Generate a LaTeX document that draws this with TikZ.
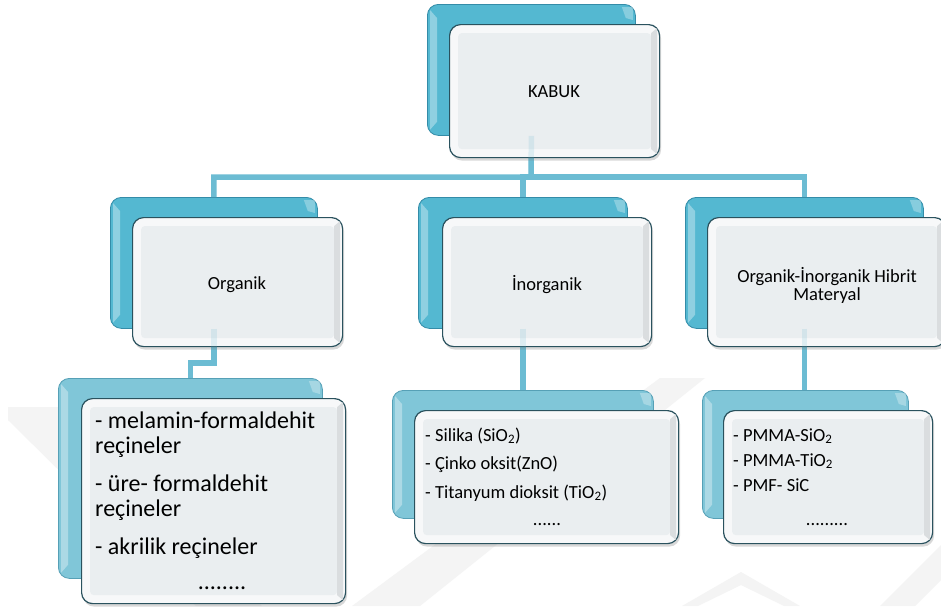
\documentclass[tikz,border=0pt]{standalone}
\usepackage{fontspec}
\setmainfont{Carlito}
\usetikzlibrary{shadows}

\definecolor{topblue}{RGB}{84,184,209}
\definecolor{topblueDark}{RGB}{52,140,168}
\definecolor{lowblue}{RGB}{128,198,216}
\definecolor{lowblueDark}{RGB}{86,160,182}
\definecolor{linkblue}{RGB}{108,188,211}
\definecolor{faceout}{RGB}{247,248,249}
\definecolor{facein}{RGB}{234,238,240}
\definecolor{facebevel}{RGB}{218,221,223}
\definecolor{rim}{RGB}{42,82,94}
\definecolor{markgrey}{RGB}{244,244,244}

\tikzset{
  box/.style={anchor=north west, inner sep=0pt, rounded corners=11pt},
  backtop/.style={box, fill=topblue, draw=topblueDark, line width=0.8pt},
  backlow/.style={box, fill=lowblue, draw=lowblueDark, line width=0.8pt},
  front/.style={box, fill=faceout, draw=rim, line width=1.2pt,
    drop shadow={shadow xshift=1.5pt, shadow yshift=-3pt, opacity=0.3}},
  link/.style={draw=linkblue, line width=5.5pt},
  ghostlink/.style={draw=linkblue, line width=5.5pt, opacity=0.18},
  lbl/.style={inner sep=0pt, anchor=base, font=\fontsize{18.5}{20}\selectfont},
  item/.style={inner sep=0pt, anchor=base west, font=\fontsize{18.5}{20}\selectfont},
  bigitem/.style={inner sep=0pt, anchor=base west, font=\fontsize{24}{25}\selectfont},
}

% inner panel and right-hand bevel of a front card
\newcommand\cardface[1]{%
  \fill[facein, rounded corners=4pt]
    ([shift={(9pt,-9pt)}]#1.north west) rectangle ([shift={(-9pt,9pt)}]#1.south east);
  \fill[facebevel]
    ([shift={(-9pt,-9pt)}]#1.north east) -- ([shift={(-3pt,-4pt)}]#1.north east)
    -- ([shift={(-3pt,4pt)}]#1.south east) -- ([shift={(-9pt,9pt)}]#1.south east) -- cycle;
}
% light edge on the left of a back card
\newcommand\cardgloss[1]{%
  \fill[white, opacity=0.35]
    ([shift={(3pt,-6pt)}]#1.north west) -- ([shift={(10pt,-14pt)}]#1.north west)
    -- ([shift={(10pt,14pt)}]#1.south west) -- ([shift={(3pt,6pt)}]#1.south west) -- cycle;
  \fill[white, opacity=0.3]
    ([shift={(-14pt,-3pt)}]#1.north east) -- ([shift={(-3pt,-3pt)}]#1.north east)
    -- ([shift={(-3pt,-16pt)}]#1.north east) -- ([shift={(-10pt,-14pt)}]#1.north east) -- cycle;
}

\begin{document}
\begin{tikzpicture}[x=1pt, y=-1pt]
\useasboundingbox (0,0) rectangle (941,606);
\fill[white] (0,0) rectangle (941,606);

% faint background mark
\fill[markgrey] (8,407) -- (62,407) -- (262,606) -- (196,606) -- (8,420) -- cycle;
\fill[markgrey] (352,606) -- (420,606) -- (705,378) -- (660,378) -- cycle;
\fill[markgrey] (741,572) -- (800,606) -- (784,606) -- (741,585) -- (698,606) -- (682,606) -- cycle;
\fill[markgrey] (880,606) -- (941,545) -- (941,580) -- (915,606) -- cycle;

% back cards
\node[backtop, minimum width=208pt, minimum height=131pt] (kb) at (427,4) {};
\node[backtop, minimum width=207pt, minimum height=131pt] (ob) at (110,197) {};
\node[backtop, minimum width=209pt, minimum height=131pt] (ib) at (418,197) {};
\node[backtop, minimum width=238pt, minimum height=131pt] (hb) at (685,197) {};
\node[backlow, minimum width=264pt, minimum height=200pt] (olb) at (58,378) {};
\node[backlow, minimum width=261pt, minimum height=128pt] (ilb) at (392,390) {};
\node[backlow, minimum width=206pt, minimum height=128pt] (hlb) at (702,390) {};

% connectors
\coordinate (hub) at (531,177);
\draw[link] (kb.south) -- (hub) -| (ob.north);
\draw[link] (hub) -| (ib.north);
\draw[link] (hub) -| (hb.north);
\draw[link] (ob.south) -- ++(0,34) -| (olb.north);
\draw[link] (ib.south) -- (ib.south |- ilb.north);
\draw[link] (hb.south) -- (hb.south |- hlb.north);

\foreach \c in {kb,ob,ib,hb,olb,ilb,hlb} {\cardgloss{\c}}

% front cards
\node[front, minimum width=210pt, minimum height=133pt] (kf) at (449,24) {};
\node[front, minimum width=210pt, minimum height=129pt] (of) at (132,217) {};
\node[front, minimum width=209pt, minimum height=129pt] (if) at (442,217) {};
\node[front, minimum width=238pt, minimum height=129pt] (hf) at (707,217) {};
\node[front, minimum width=264pt, minimum height=205pt] (olf) at (81,398) {};
\node[front, minimum width=264pt, minimum height=133pt] (ilf) at (414,410) {};
\node[front, minimum width=209pt, minimum height=133pt] (hlf) at (723,410) {};
\foreach \c in {kf,of,if,hf,olf,ilf,hlf} {\cardface{\c}}

% connectors seen faintly through the front cards
\draw[ghostlink] (kb.south) -- (hub);
\draw[ghostlink] (ob.south) -- ++(0,34);
\draw[ghostlink] (ib.south) -- ++(0,34);
\draw[ghostlink] (hb.south) -- ++(0,34);

% labels
\node[lbl] (kt) at (554,97) {KABUK};
\node[lbl] (ot) at (237,289) {Organik};
\node[lbl] (it) at (547,290) {İnorganik};
\node[lbl] (ht1) at (827,282) {Organik-İnorganik Hibrit};
\node[lbl] (ht2) at (827,300) {Materyal};

\node[bigitem] (o1) at (95,428) {- melamin-formaldehit};
\node[bigitem] (o2) at (95,453) {reçineler};
\node[bigitem] (o3) at (95,491) {- üre- formaldehit};
\node[bigitem] (o4) at (95,516) {reçineler};
\node[bigitem] (o5) at (95,554) {- akrilik reçineler};
\node[bigitem, anchor=base] (o6) at (222,589) {........};

\node[item] (i1) at (425,441) {- Silika (SiO\textsubscript{2})};
\node[item] (i2) at (425,469) {- Çinko oksit(ZnO)};
\node[item] (i3) at (425,498) {- Titanyum dioksit (TiO\textsubscript{2})};
\node[item, anchor=base] (i4) at (547,525) {......};

\node[item] (h1) at (733,441) {- PMMA-SiO\textsubscript{2}};
\node[item] (h2) at (733,466) {- PMMA-TiO\textsubscript{2}};
\node[item] (h3) at (733,491) {- PMF- SiC};
\node[item, anchor=base] (h4) at (827,525) {.........};
\end{tikzpicture}
\end{document}
